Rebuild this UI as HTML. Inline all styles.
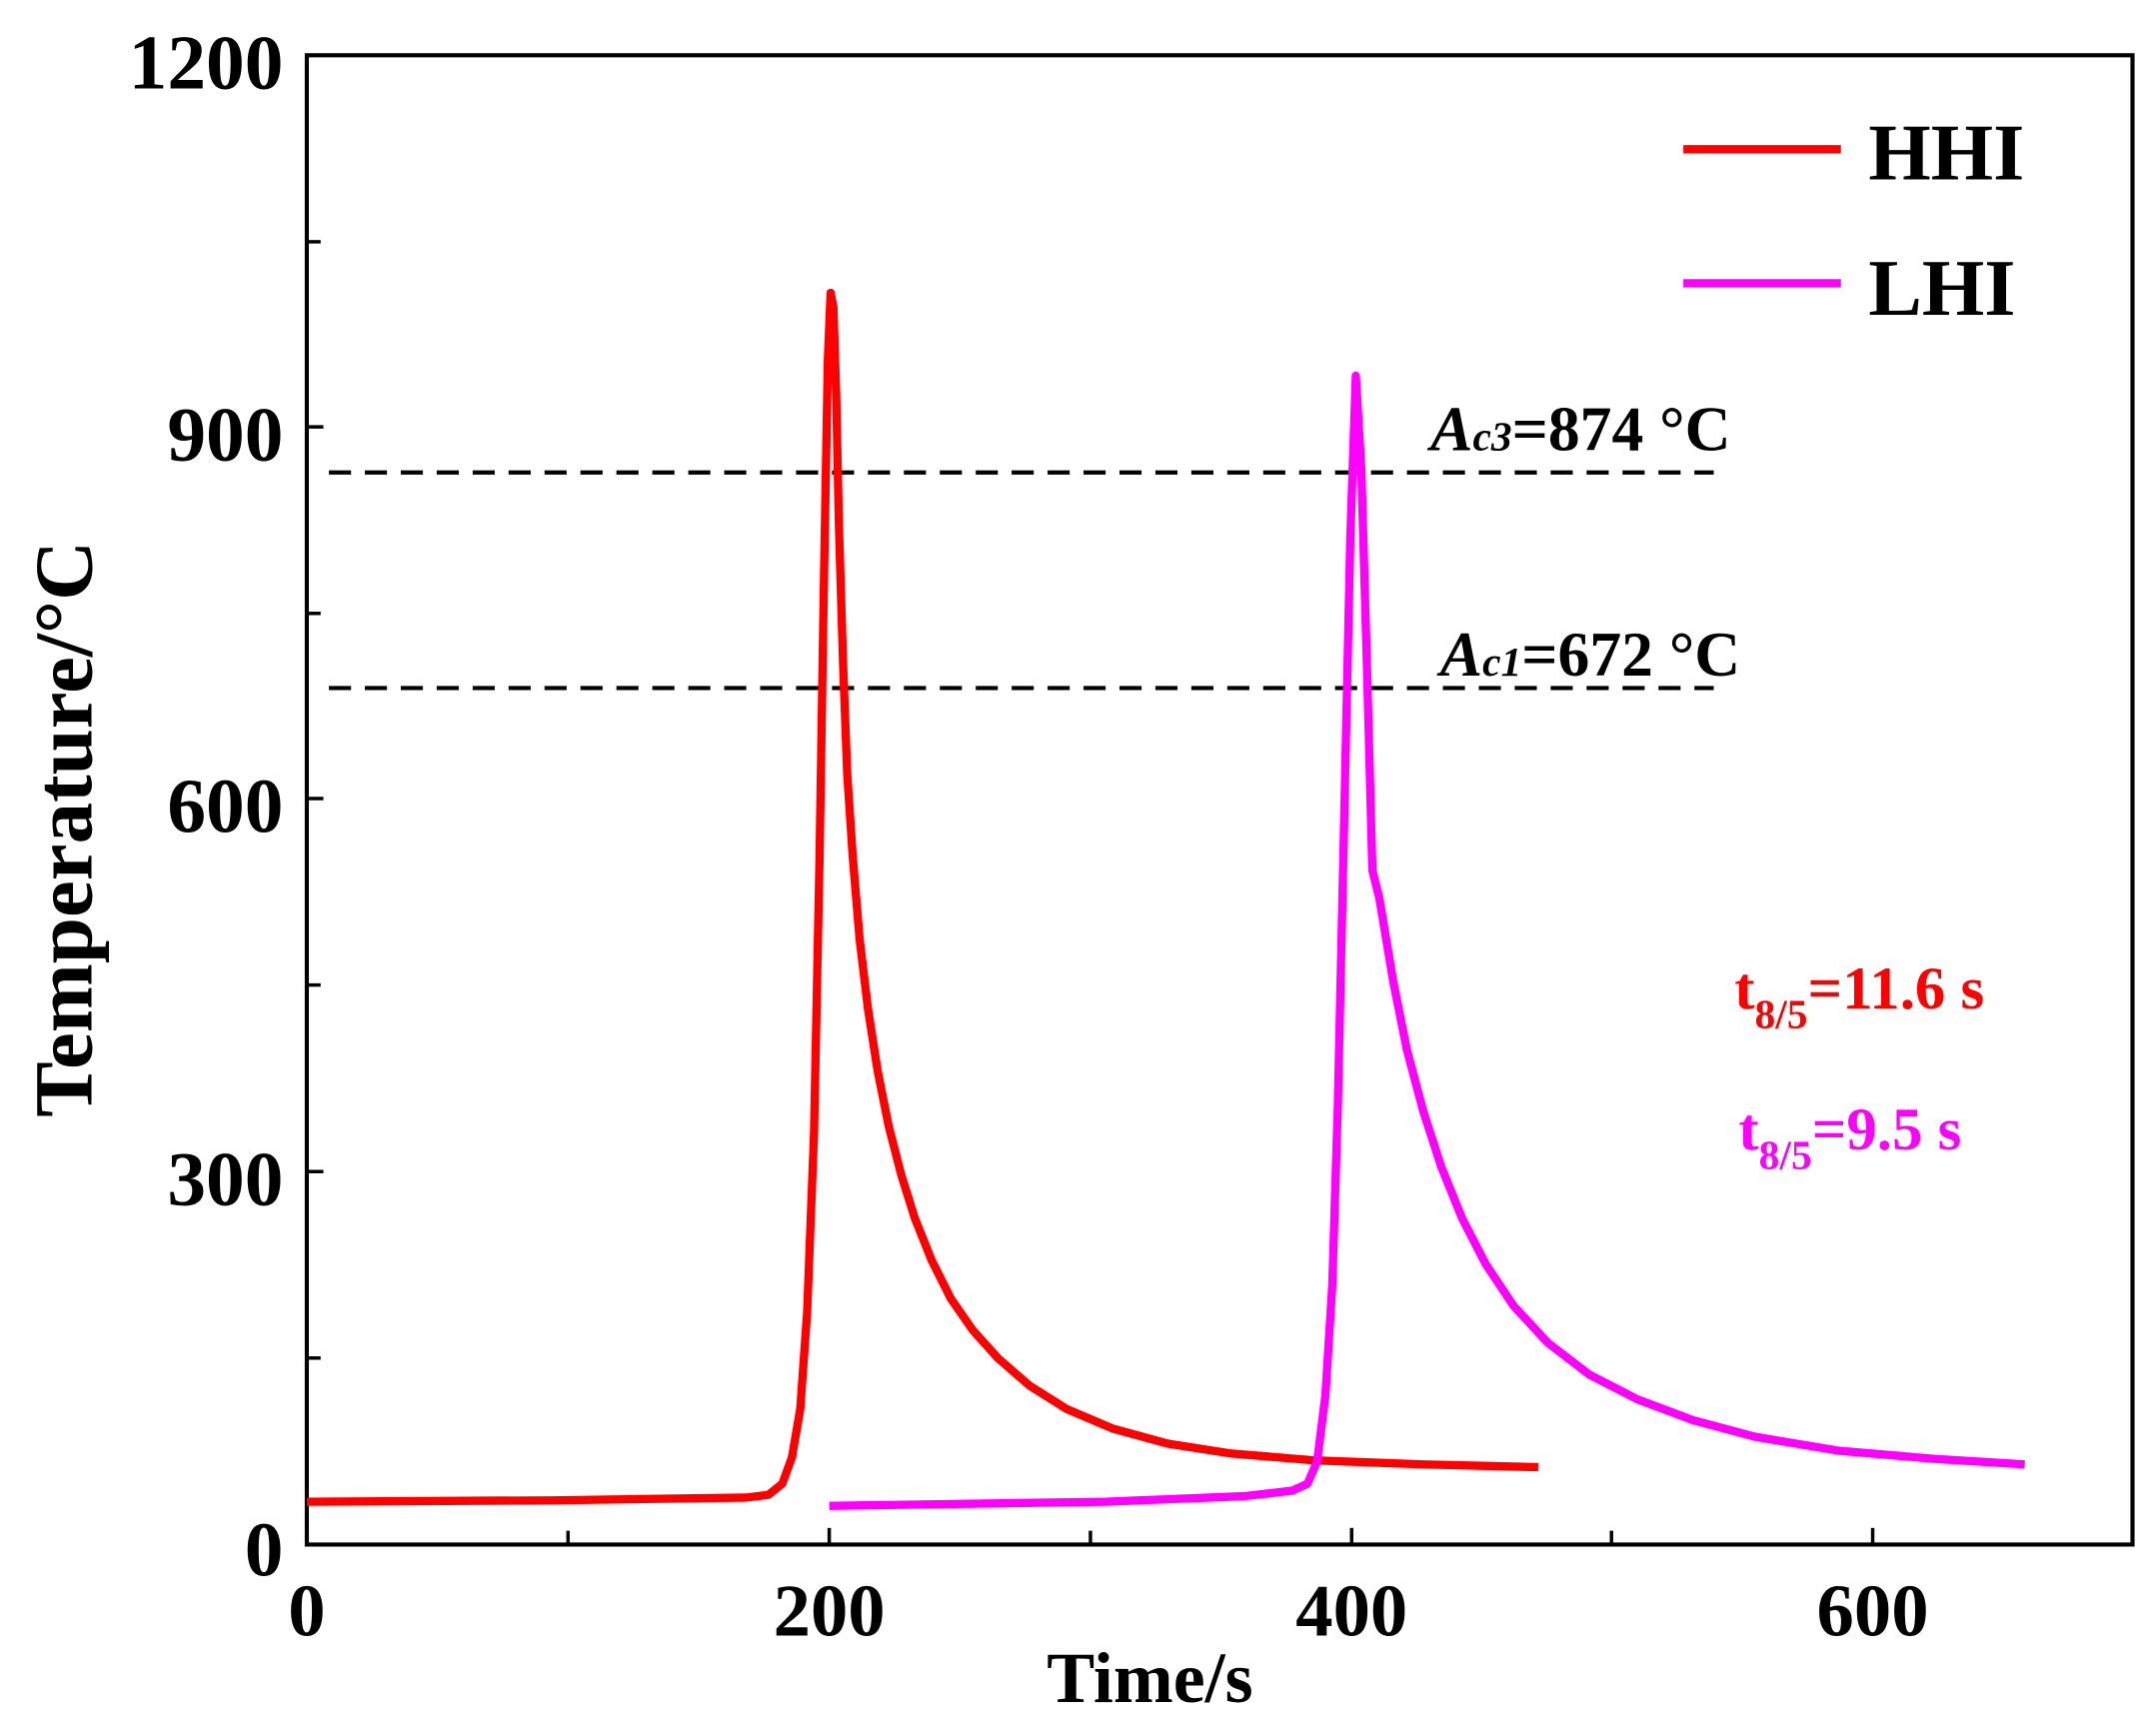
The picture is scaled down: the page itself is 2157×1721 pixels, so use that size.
<!DOCTYPE html>
<html><head><meta charset="utf-8"><style>html,body{margin:0;padding:0;background:#fff}svg{display:block}text{font-family:"Liberation Serif",serif;font-weight:bold}</style></head>
<body>
<svg width="2157" height="1721" viewBox="0 0 1560 1245" preserveAspectRatio="none" xmlns="http://www.w3.org/2000/svg">
<rect x="222" y="40" width="1321" height="1078" fill="none" stroke="#000" stroke-width="3"/>
<g stroke="#000" stroke-width="2.5">
<line x1="222" y1="1118" x2="222" y2="1106"/><line x1="411" y1="1118" x2="411" y2="1108"/><line x1="600" y1="1118" x2="600" y2="1106"/><line x1="789" y1="1118" x2="789" y2="1108"/><line x1="978" y1="1118" x2="978" y2="1106"/><line x1="1166" y1="1118" x2="1166" y2="1108"/><line x1="1355" y1="1118" x2="1355" y2="1106"/>
<line x1="222" y1="983" x2="232" y2="983"/><line x1="222" y1="848" x2="234" y2="848"/><line x1="222" y1="713" x2="232" y2="713"/><line x1="222" y1="578" x2="234" y2="578"/><line x1="222" y1="444" x2="232" y2="444"/><line x1="222" y1="309" x2="234" y2="309"/><line x1="222" y1="175" x2="232" y2="175"/>
</g>
<g font-size="56" text-anchor="end">
<text x="205" y="64">1200</text><text x="205" y="333">900</text><text x="205" y="602">600</text><text x="205" y="872">300</text><text x="205" y="1140">0</text>
</g>
<g font-size="54" text-anchor="middle">
<text x="222" y="1184">0</text><text x="600" y="1184">200</text><text x="978" y="1184">400</text><text x="1355" y="1184">600</text>
</g>
<text x="832" y="1232" font-size="52" text-anchor="middle">Time/s</text>
<text transform="translate(66,600) rotate(-90)" font-size="60" text-anchor="middle">Temperature/°C</text>
<g stroke="#000" stroke-width="3" stroke-dasharray="16,10">
<line x1="238" y1="342" x2="1240" y2="342"/><line x1="238" y1="498" x2="1240" y2="498"/>
</g>
<text x="1035" y="326" font-size="46"><tspan font-style="italic">A<tspan font-size="30">c3</tspan></tspan>=874 °C</text>
<text x="1042" y="489" font-size="46"><tspan font-style="italic">A<tspan font-size="30">c1</tspan></tspan>=672 °C</text>
<line x1="1218" y1="108" x2="1332" y2="108" stroke="#f00" stroke-width="6"/>
<text x="1352" y="130" font-size="58">HHI</text>
<line x1="1218" y1="205" x2="1332" y2="205" stroke="#f0f" stroke-width="6"/>
<text x="1352" y="228" font-size="58">LHI</text>
<text x="1255" y="730" font-size="44" fill="#f00">t<tspan font-size="30" dy="14">8/5</tspan><tspan dy="-14">=11.6 s</tspan></text>
<text x="1258" y="832" font-size="44" fill="#f0f">t<tspan font-size="30" dy="14">8/5</tspan><tspan dy="-14">=9.5 s</tspan></text>
<polyline fill="none" stroke="#f00" stroke-width="6" stroke-linejoin="round" points="222,1087 400,1086 540,1084 556,1082 566,1074 573,1055 579,1020 584,950 589,820 593,620 596,430 599,260 601,212 603,222 605,285 607,380 610,480 613,560 617,620 622,680 628,730 635,775 643,815 652,850 662,882 674,912 688,940 704,963 722,983 745,1003 772,1020 805,1034 845,1045 890,1052 950,1057 1030,1060 1113,1062"/>
<polyline fill="none" stroke="#f0f" stroke-width="6" stroke-linejoin="round" points="600,1090 800,1087 900,1083 935,1079 946,1074 953,1058 959,1010 964,930 968,800 972,620 977,390 981,272 985,340 989,480 993,630 998,650 1003,680 1008,710 1018,760 1030,805 1043,845 1058,882 1075,915 1095,945 1120,972 1150,995 1185,1013 1225,1028 1270,1040 1330,1050 1400,1056 1465,1060"/>
</svg>
</body></html>
